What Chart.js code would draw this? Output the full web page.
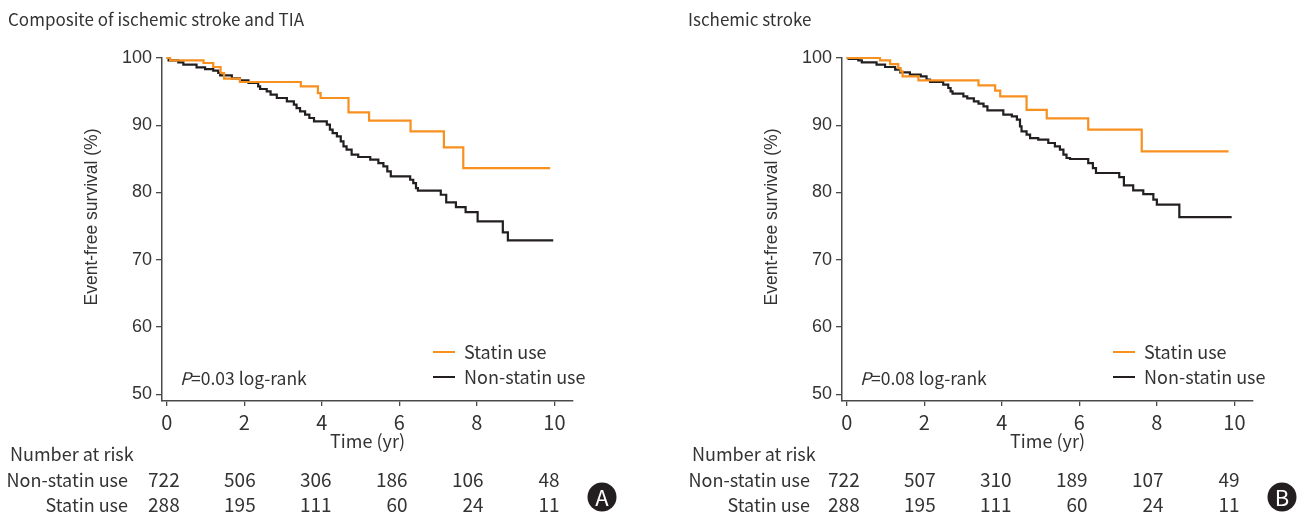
<!DOCTYPE html>
<html><head><meta charset="utf-8">
<script src="https://cdn.jsdelivr.net/npm/chart.js@4"></script>
<style>
html,body{margin:0;padding:0;background:#fff;}
body{width:1304px;height:521px;position:relative;overflow:hidden;}
canvas{position:absolute;top:0;}
#cA{left:0;} #cB{left:680px;}
</style></head><body>
<canvas id="cA" width="652" height="521"></canvas>
<canvas id="cB" width="624" height="521"></canvas>
<script>
// ---------- data ----------
const xTicks = [0, 2, 4, 6, 8, 10];
const yTicks = [50, 60, 70, 80, 90, 100];
const seriesNames = ['Statin use', 'Non-statin use'];
const titleA = 'Composite of ischemic stroke and TIA';
const titleB = 'Ischemic stroke';
const xTitle = 'Time (yr)';
const yTitle = 'Event-free survival (%)';
const pTextA = '=0.03 log-rank';
const pTextB = '=0.08 log-rank';
const riskHeader = 'Number at risk';
const riskRowNames = ['Non-statin use', 'Statin use'];
const riskTimes = [0, 2, 4, 6, 8, 10];
const riskNonStatinA = [722, 506, 306, 186, 106, 48];
const riskStatinA = [288, 195, 111, 60, 24, 11];
const riskNonStatinB = [722, 507, 310, 189, 107, 49];
const riskStatinB = [288, 195, 111, 60, 24, 11];

const statinTimeA = [0, 0.09, 0.95, 1.20, 1.39, 1.48, 1.89, 3.46, 3.90, 3.97, 4.69, 5.22, 6.29, 7.15, 7.65, 9.89];
const statinSurvA = [100, 99.65, 99.26, 98.66, 97.77, 96.93, 96.43, 95.79, 94.79, 94.05, 91.92, 90.68, 89.09, 86.71, 83.64, 83.64];

const nonStatinTimeA = [0, 0.05, 0.30, 0.43, 0.77, 0.99, 1.20, 1.33, 1.38, 1.68, 1.89, 2.11, 2.36, 2.41, 2.58, 2.68, 2.84, 3.10, 3.28, 3.35, 3.44, 3.57, 3.68, 3.80, 4.13, 4.21, 4.28, 4.39, 4.49, 4.56, 4.64, 4.77, 4.94, 5.25, 5.46, 5.59, 5.69, 5.78, 6.28, 6.36, 6.43, 6.48, 7.07, 7.21, 7.46, 7.71, 8.02, 8.67, 8.80, 9.97];
const nonStatinSurvA = [100, 99.65, 99.36, 99.01, 98.61, 98.36, 98.12, 97.77, 97.42, 96.98, 96.68, 96.28, 95.79, 95.39, 95.04, 94.55, 94.05, 93.55, 93.06, 92.56, 92.07, 91.57, 91.08, 90.58, 90.08, 89.34, 88.84, 88.35, 87.61, 86.86, 86.37, 85.62, 85.28, 84.88, 84.38, 83.89, 83.14, 82.40, 81.90, 81.41, 80.66, 80.27, 79.67, 78.53, 77.84, 77.09, 75.71, 74.07, 72.88, 72.88];

const statinTimeB = [0, 0.86, 1.12, 1.33, 1.39, 1.44, 1.85, 3.40, 3.83, 3.96, 4.64, 5.16, 6.23, 7.61, 9.85];
const statinSurvB = [100, 99.65, 99.10, 98.50, 98.00, 97.27, 96.68, 95.93, 95.14, 94.30, 92.30, 91.03, 89.34, 86.12, 86.12];

const nonStatinTimeB = [0, 0.05, 0.30, 0.39, 0.77, 0.99, 1.25, 1.38, 1.63, 1.91, 2.06, 2.15, 2.49, 2.62, 2.68, 2.73, 3.01, 3.11, 3.28, 3.40, 3.53, 3.63, 4.04, 4.26, 4.39, 4.47, 4.51, 4.64, 4.73, 4.94, 5.20, 5.37, 5.50, 5.59, 5.67, 5.76, 6.23, 6.35, 6.43, 7.03, 7.15, 7.39, 7.65, 7.91, 8.00, 8.58, 9.93];
const nonStatinSurvB = [100, 99.85, 99.65, 99.36, 99.01, 98.66, 98.26, 97.87, 97.52, 97.27, 96.78, 96.43, 96.03, 95.54, 95.04, 94.70, 94.30, 94.00, 93.55, 93.21, 92.81, 92.22, 91.57, 91.32, 90.83, 89.84, 89.09, 88.60, 88.10, 87.85, 87.36, 86.86, 86.37, 85.62, 85.13, 84.98, 84.38, 83.64, 82.90, 82.30, 81.06, 80.32, 79.77, 78.93, 78.19, 76.35, 76.35];

// ---------- style ----------
const ORANGE = '#f7901e';
const BLACK = '#231f20';
const TEXT = '#333333';
const AXIS = '#4a4a4a';
const SANS = '"Noto Sans CJK KR", "Liberation Sans", sans-serif';
const ARIAL = '"Liberation Sans", Arial, sans-serif';

const extras = {
  id: 'extras',
  afterDraw(chart, args, o) {
    const ctx = chart.ctx;
    const ca = chart.chartArea;
    const xs = chart.scales.x;
    ctx.save();
    ctx.fillStyle = TEXT;
    ctx.textBaseline = 'middle';
    // panel title
    ctx.font = '17px ' + SANS;
    ctx.textAlign = 'left';
    ctx.fillText(o.title, o.titleX, 20);
    // y axis title
    ctx.save();
    ctx.translate(92, 217);
    ctx.rotate(-Math.PI / 2);
    ctx.font = '17.5px ' + ARIAL;
    ctx.textAlign = 'center';
    ctx.fillText(yTitle, 0, 0);
    ctx.restore();
    // legend
    chart.data.datasets.forEach((ds, i) => {
      const y = ca.bottom - 49 + i * 25;
      ctx.strokeStyle = ds.borderColor;
      ctx.lineWidth = 2;
      ctx.beginPath();
      ctx.moveTo(ca.right - 140, y);
      ctx.lineTo(ca.right - 118, y);
      ctx.stroke();
      ctx.fillStyle = TEXT;
      ctx.font = '18px ' + SANS;
      ctx.textAlign = 'left';
      ctx.fillText(ds.label, ca.right - 109, y);
    });
    // P value
    ctx.font = 'italic 17.5px ' + SANS;
    ctx.textAlign = 'left';
    const px = ca.left + 18, py = ca.bottom - 23;
    ctx.fillText('P', px, py);
    const pw = ctx.measureText('P').width;
    ctx.font = '17.5px ' + SANS;
    ctx.fillText(o.pText, px + pw, py);
    // number at risk table
    ctx.font = '18px ' + SANS;
    ctx.textAlign = 'left';
    ctx.fillText(riskHeader, o.riskLabelX, 454);
    ctx.textAlign = 'right';
    ctx.fillText(riskRowNames[0], o.riskLabelX + 118, 480);
    ctx.fillText(riskRowNames[1], o.riskLabelX + 118, 505);
    ctx.font = '19px ' + SANS;
    riskTimes.forEach((t, i) => {
      const x = xs.getPixelForValue(t * 0.98) + 13;
      ctx.fillText(String(o.riskNon[i]), x, 480);
      ctx.fillText(String(o.riskStat[i]), x, 505);
    });
    // panel letter
    const cx = ca.right + 29, cy = 497;
    ctx.fillStyle = BLACK;
    ctx.beginPath();
    ctx.arc(cx, cy, 14.5, 0, Math.PI * 2);
    ctx.fill();
    ctx.fillStyle = '#ffffff';
    ctx.textAlign = 'center';
    ctx.font = '22px ' + SANS;
    ctx.fillText(o.letter, cx, cy + 1);
    ctx.restore();
  }
};

function makeChart(id, o) {
  const mk = (t, s) => t.map((v, i) => ({ x: v, y: s[i] }));
  return new Chart(document.getElementById(id), {
    type: 'line',
    data: {
      datasets: [
        { label: seriesNames[0], data: mk(o.st, o.ss), borderColor: ORANGE, borderWidth: 2.2, stepped: true, pointRadius: 0, clip: false, fill: false },
        { label: seriesNames[1], data: mk(o.nt, o.ns), borderColor: BLACK, borderWidth: 2.2, stepped: true, pointRadius: 0, clip: false, fill: false }
      ]
    },
    options: {
      responsive: false,
      animation: false,
      devicePixelRatio: 1,
      layout: { padding: { top: 58, right: o.padRight, bottom: 0, left: 0 } },
      plugins: { legend: { display: false }, tooltip: { enabled: false }, extras: o },
      scales: {
        x: {
          type: 'linear', min: -0.121, max: 10.48,
          afterBuildTicks: s => { s.ticks = xTicks.map(v => ({ value: v })); },
          afterFit: s => { s.height = 120; },
          grid: { display: true, drawOnChartArea: false, drawTicks: true, tickLength: 5, color: AXIS, lineWidth: 1.3 },
          border: { display: true, color: AXIS, width: 1.5 },
          ticks: { color: TEXT, font: { family: SANS, size: 20 }, padding: 4, maxRotation: 0 },
          title: { display: true, text: xTitle, color: TEXT, font: { family: SANS, size: 18 }, padding: { top: 0, bottom: 69 } }
        },
        y: {
          type: 'linear', min: 49, max: 100,
          afterBuildTicks: s => { s.ticks = yTicks.map(v => ({ value: v })); },
          afterFit: s => { s.width = 162; },
          grid: { display: true, drawOnChartArea: false, drawTicks: true, tickLength: 6, color: AXIS, lineWidth: 1.3 },
          border: { display: true, color: AXIS, width: 1.5 },
          ticks: { color: TEXT, font: { family: ARIAL, size: 18 }, padding: 4 },
          title: { display: false }
        }
      }
    },
    plugins: [extras]
  });
}

makeChart('cA', {
  st: statinTimeA, ss: statinSurvA, nt: nonStatinTimeA, ns: nonStatinSurvA,
  padRight: 79, title: titleA, titleX: 8, pText: pTextA, riskLabelX: 10,
  riskNon: riskNonStatinA, riskStat: riskStatinA, letter: 'A'
});
makeChart('cB', {
  st: statinTimeB, ss: statinSurvB, nt: nonStatinTimeB, ns: nonStatinSurvB,
  padRight: 51, title: titleB, titleX: 8, pText: pTextB, riskLabelX: 12,
  riskNon: riskNonStatinB, riskStat: riskStatinB, letter: 'B'
});
</script>
</body></html>
